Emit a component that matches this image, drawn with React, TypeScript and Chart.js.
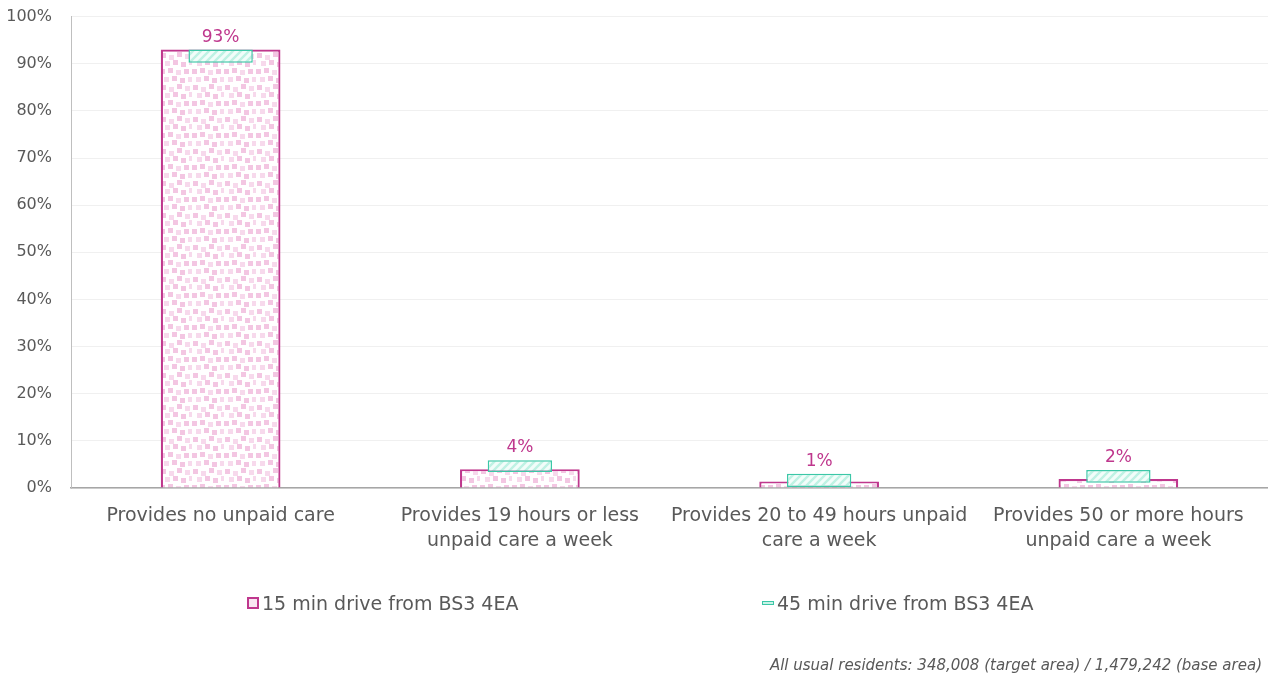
import React, { useEffect, useRef } from "react";
import { Chart, registerables } from "chart.js";

Chart.register(...registerables);

const categories: (string | string[])[] = [
  "Provides no unpaid care",
  ["Provides 19 hours or less", "unpaid care a week"],
  ["Provides 20 to 49 hours unpaid", "care a week"],
  ["Provides 50 or more hours", "unpaid care a week"],
];
const targetValues = [93, 4, 1.4, 1.9];
const targetLabels = ["93%", "4%", "1%", "2%"];
const baseLow = [90.2, 3.4, 0.2, 1.1];
const baseHigh = [93.0, 5.9, 3.0, 3.8];
const yTicks = [0, 10, 20, 30, 40, 50, 60, 70, 80, 90, 100];

const seriesNames = ["15 min drive from BS3 4EA", "45 min drive from BS3 4EA"];

const PINK = "#bf378d";
const TEAL = "#3cc7a7";
const FONT = "'DejaVu Sans', sans-serif";
const TEXT = "#595959";

function pinkPattern(ctx: CanvasRenderingContext2D): CanvasPattern | string {
  const c = document.createElement("canvas");
  c.width = 32;
  c.height = 32;
  const g = c.getContext("2d");
  if (!g) return "#f6d6ea";
  g.fillStyle = "#ffffff";
  g.fillRect(0, 0, 32, 32);
  const A = "#f3c6e2";
  const B = "#f7d9ec";
  const sq: [number, number, string][] = [
    [1, 1, A], [9, 3, B], [17, 0, A], [25, 2, B],
    [5, 9, B], [13, 8, A], [21, 10, A], [29, 8, B],
    [0, 17, A], [8, 16, A], [16, 18, B], [24, 17, A],
    [4, 25, B], [12, 24, A], [20, 26, A], [28, 25, B],
  ];
  for (const [x, y, col] of sq) {
    g.fillStyle = col;
    g.fillRect(x, y, 5, 5);
  }
  return ctx.createPattern(c, "repeat") || "#f6d6ea";
}

function tealPattern(ctx: CanvasRenderingContext2D): CanvasPattern | string {
  const c = document.createElement("canvas");
  c.width = 8;
  c.height = 8;
  const g = c.getContext("2d");
  if (!g) return "#d5f5ec";
  g.fillStyle = "#f2fdfa";
  g.fillRect(0, 0, 8, 8);
  g.strokeStyle = "#bff2e4";
  g.lineWidth = 2.4;
  g.beginPath();
  g.moveTo(-2, 10);
  g.lineTo(10, -2);
  g.moveTo(-6, 6);
  g.lineTo(6, -6);
  g.moveTo(2, 14);
  g.lineTo(14, 2);
  g.stroke();
  return ctx.createPattern(c, "repeat") || "#d5f5ec";
}

const labelPlugin = {
  id: "topLabels",
  afterDatasetsDraw(chart: any) {
    const ctx = chart.ctx as CanvasRenderingContext2D;
    const m0 = chart.getDatasetMeta(0);
    const m1 = chart.getDatasetMeta(1);
    ctx.save();
    ctx.fillStyle = PINK;
    ctx.font = `17px ${FONT}`;
    ctx.textAlign = "center";
    ctx.textBaseline = "bottom";
    targetLabels.forEach((lab, i) => {
      const e0 = m0.data[i];
      const e1 = m1.data[i];
      const top = Math.min(e0.y, e1.y);
      ctx.fillText(lab, e0.x, top - 4);
    });
    ctx.restore();
  },
};

export default function App() {
  const ref = useRef<HTMLCanvasElement>(null);
  useEffect(() => {
    const canvas = ref.current;
    if (!canvas) return;
    const ctx = canvas.getContext("2d")!;
    const chart = new Chart(ctx, {
      type: "bar",
      data: {
        labels: categories,
        datasets: [
          {
            label: seriesNames[0],
            data: targetValues,
            backgroundColor: pinkPattern(ctx),
            borderColor: PINK,
            borderWidth: 2.2,
            barPercentage: 0.4,
            categoryPercentage: 1,
            grouped: false,
            order: 2,
          } as any,
          {
            label: seriesNames[1],
            data: baseLow.map((lo, i) => [lo, baseHigh[i]]) as any,
            backgroundColor: tealPattern(ctx),
            borderColor: TEAL,
            borderWidth: 1.5,
            borderSkipped: false,
            barPercentage: 0.215,
            categoryPercentage: 1,
            grouped: false,
            order: 1,
          } as any,
        ],
      },
      options: {
        animation: false,
        responsive: false,
        maintainAspectRatio: false,
        layout: { padding: { top: 0, right: 0, left: 0, bottom: 106 } },
        plugins: {
          legend: { display: false },
          tooltip: { enabled: false },
        },
        scales: {
          x: {
            stacked: false,
            grid: { display: false, drawTicks: false },
            border: { color: "#a6a6a6", width: 1.5 },
            afterFit(axis: any) {
              axis.height = 70;
            },
            ticks: {
              color: TEXT,
              font: { family: FONT, size: 19, lineHeight: 1.3 },
              padding: 16,
              maxRotation: 0,
              autoSkip: false,
            },
          },
          y: {
            stacked: false,
            min: 0,
            max: 100,
            afterBuildTicks(axis: any) {
              axis.ticks = yTicks.map((v) => ({ value: v }));
            },
            afterFit(axis: any) {
              axis.width = 71;
            },
            grid: { color: "#f0f0f0", drawTicks: false },
            border: { color: "#bfbfbf", width: 1 },
            ticks: {
              color: TEXT,
              font: { family: FONT, size: 16 },
              padding: 19,
              callback: (v: any) => `${v}%`,
            },
          },
        },
      },
      plugins: [labelPlugin],
    });
    return () => chart.destroy();
  }, []);

  const legendText: React.CSSProperties = {
    position: "absolute",
    fontFamily: FONT,
    fontSize: 19,
    color: TEXT,
    top: 591,
    whiteSpace: "nowrap",
    lineHeight: "24px",
  };

  return (
    <div style={{ position: "absolute", left: 0, top: 0, width: 1268, height: 676, background: "#fff", overflow: "hidden" }}>
      <canvas
        ref={ref}
        width={1268}
        height={676}
        style={{ position: "absolute", left: 0, top: -12, display: "block", width: 1268, height: 676 }}
      />
      <div
        style={{
          position: "absolute",
          left: 247,
          top: 597,
          width: 8,
          height: 8,
          border: `2px solid ${PINK}`,
          background: "#f9e6f2",
        }}
      />
      <div style={{ ...legendText, left: 262 }}>{seriesNames[0]}</div>
      <div
        style={{
          position: "absolute",
          left: 762,
          top: 601,
          width: 10,
          height: 2,
          border: `1px solid ${TEAL}`,
          background: "#c8f3e7",
        }}
      />
      <div style={{ ...legendText, left: 777 }}>{seriesNames[1]}</div>
      <div
        style={{
          position: "absolute",
          right: 6,
          top: 655,
          fontFamily: FONT,
          fontSize: 15,
          fontStyle: "italic",
          color: TEXT,
          whiteSpace: "nowrap",
          lineHeight: "20px",
        }}
      >
        All usual residents: 348,008 (target area) / 1,479,242 (base area)
      </div>
    </div>
  );
}
